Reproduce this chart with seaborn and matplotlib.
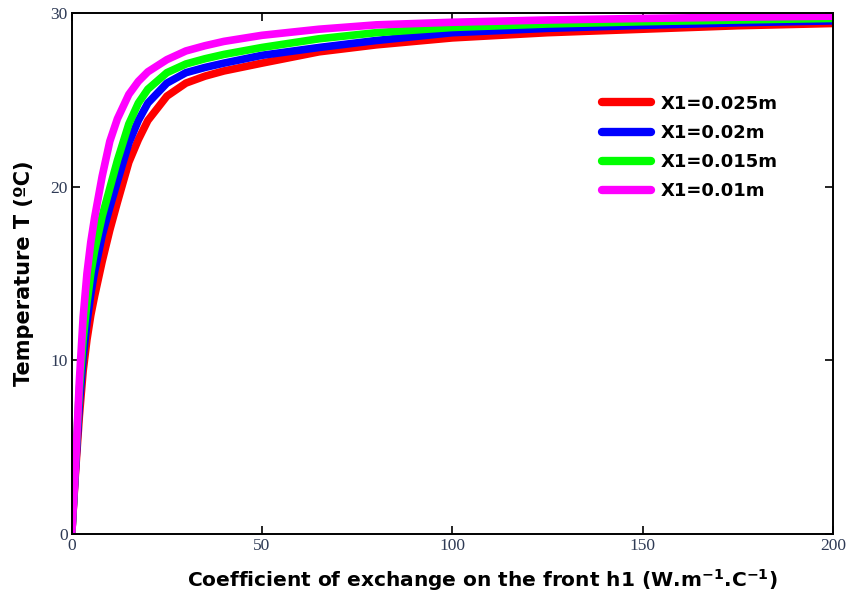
import pandas as pd
import matplotlib
matplotlib.use("Agg")
import matplotlib.pyplot as plt
import seaborn as sns

h1 = [0, 1, 2, 3, 4, 5, 6, 8, 10, 12, 15, 17.5, 20, 25, 30, 35, 40, 50, 65, 80, 100, 125, 150, 175, 200]

t_x025 = [0, 3.6, 6.8, 9.4, 11.2, 12.6, 13.7, 15.7, 17.5, 19.1, 21.4, 22.7, 23.8, 25.2, 25.95, 26.35, 26.65,
          27.1, 27.75, 28.15, 28.55, 28.85, 29.05, 29.25, 29.38]
t_x020 = [0, 3.8, 7.5, 10.2, 12.2, 13.8, 15.1, 17.2, 18.8, 20.3, 22.5, 23.8, 24.8, 25.95, 26.55, 26.85, 27.1,
          27.55, 28.0, 28.4, 28.85, 29.1, 29.27, 29.42, 29.53]
t_x015 = [0, 4.2, 8.3, 11.2, 13.3, 15.0, 16.3, 18.3, 19.9, 21.5, 23.6, 24.8, 25.6, 26.55, 27.05, 27.35, 27.6,
          28.0, 28.5, 28.85, 29.15, 29.35, 29.48, 29.58, 29.67]
t_x010 = [0, 4.0, 8.8, 12.5, 15.0, 16.8, 18.2, 20.6, 22.6, 23.9, 25.3, 26.05, 26.6, 27.3, 27.8, 28.1, 28.35,
          28.7, 29.05, 29.3, 29.45, 29.58, 29.67, 29.74, 29.8]

labels = ["X1=0.025m", "X1=0.02m", "X1=0.015m", "X1=0.01m"]
colors = ["#ff0000", "#0000ff", "#00ff00", "#ff00ff"]

df = pd.concat([
    pd.DataFrame({"h1": h1, "T": t, "case": lab})
    for t, lab in zip([t_x025, t_x020, t_x015, t_x010], labels)
])

sns.set_style("ticks")
plt.rcParams["font.family"] = ["DejaVu Sans"]
plt.rcParams["text.color"] = "black"
plt.rcParams["axes.labelcolor"] = "black"
plt.rcParams["mathtext.fontset"] = "dejavusans"

fig = plt.figure(figsize=(8.49, 5.96), dpi=100)
ax = fig.add_axes([0.0845, 0.1035, 0.8965, 0.8752])

sns.lineplot(data=df, x="h1", y="T", hue="case", hue_order=labels,
             palette=colors, linewidth=5.5, ax=ax, sort=True)

ax.set_xlim(0, 200)
ax.set_ylim(0, 30)
ax.set_xticks([0, 50, 100, 150, 200])
ax.set_yticks([0, 10, 20, 30])
ax.tick_params(direction="in", top=True, right=True, length=6, width=1.2,
               color="black", labelsize=12.5, labelcolor="#2e3a55", pad=3)
for lab in ax.get_xticklabels() + ax.get_yticklabels():
    lab.set_family("Liberation Serif")
for sp in ax.spines.values():
    sp.set_visible(True)
    sp.set_linewidth(1.4)
    sp.set_color("black")

ax.set_xlabel("Coefficient of exchange on the front h1 (W.m$^{\\mathbf{-1}}$.C$^{\\mathbf{-1}}$)",
              fontsize=14.5, fontweight="bold")
ax.xaxis.set_label_coords(0.54, -0.062)
ax.set_ylabel("Temperature T (ºC)", fontsize=15, fontweight="bold", labelpad=12)

leg = ax.legend(loc="upper left", bbox_to_anchor=(0.675, 0.874), frameon=False,
                prop={"weight": "bold", "size": 13}, handlelength=2.7,
                labelspacing=0.62, handletextpad=0.55)
for line in leg.get_lines():
    line.set_linewidth(6)
    line.set_solid_capstyle("round")

fig.savefig("out.png", dpi=100)
